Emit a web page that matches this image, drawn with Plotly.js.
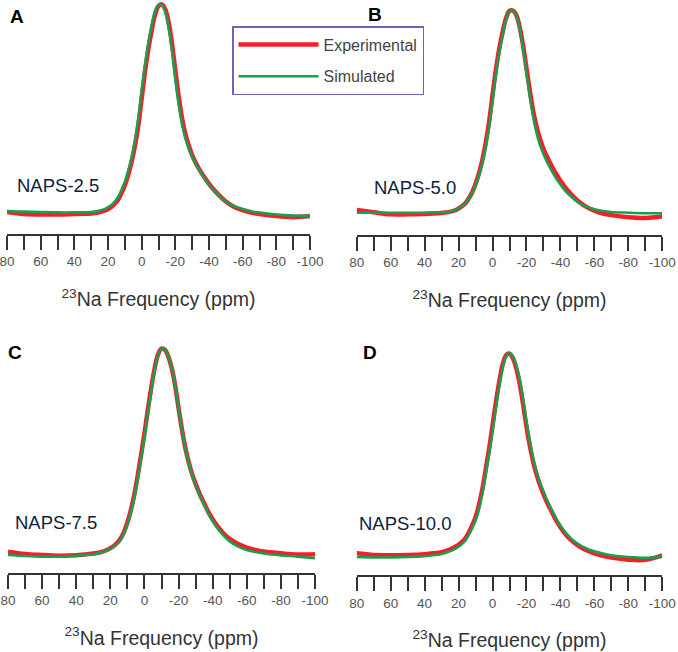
<!DOCTYPE html>
<html>
<head>
<meta charset="utf-8">
<script src="https://cdn.plot.ly/plotly-3.0.1.min.js"></script>
<style>html,body{margin:0;padding:0;background:#fff;}#chart{width:678px;height:652px;}</style>
</head>
<body>
<div id="chart"></div>
<script>
// Chemical shift grid (ppm)
const ppm = [80,70,60,50,40,35,30,26,22,20,18,16,14,12,10,8,6,4,2,0,-2,-4,-6,-8,-10,-12,-14,-16,-18,-20,-22,-24,-26,-28,-30,-32,-35,-38,-42,-46,-50,-55,-60,-65,-70,-80,-90,-100];

// Normalized intensities (same ppm grid)
const expA = [0.0,-0.01,-0.012,-0.012,-0.01,-0.009,-0.007,-0.003,0.006,0.014,0.024,0.039,0.06,0.09,0.128,0.178,0.24,0.318,0.415,0.545,0.675,0.785,0.875,0.95,0.99,0.998,0.975,0.912,0.81,0.68,0.555,0.45,0.375,0.318,0.273,0.238,0.195,0.158,0.115,0.08,0.05,0.024,0.009,-0.003,-0.01,-0.02,-0.025,-0.02];
const simA = [0.005,0.002,0.0,-0.002,-0.002,-0.001,0.0,0.005,0.014,0.023,0.034,0.05,0.073,0.105,0.145,0.198,0.262,0.345,0.452,0.587,0.71,0.815,0.9,0.967,0.997,0.995,0.962,0.885,0.775,0.635,0.515,0.42,0.353,0.305,0.265,0.232,0.19,0.153,0.112,0.078,0.05,0.028,0.014,0.004,-0.003,-0.012,-0.017,-0.018];

const expB = [0.013,0.002,-0.008,-0.008,-0.006,-0.004,-0.001,0.003,0.012,0.021,0.032,0.047,0.07,0.1,0.141,0.194,0.26,0.345,0.45,0.58,0.705,0.81,0.893,0.96,0.995,0.997,0.975,0.915,0.825,0.712,0.6,0.5,0.422,0.362,0.315,0.278,0.228,0.184,0.134,0.094,0.06,0.03,0.01,-0.004,-0.012,-0.022,-0.026,-0.018];
const simB = [0.0,0.0,0.0,0.0,0.0,0.001,0.002,0.004,0.013,0.021,0.031,0.045,0.066,0.095,0.134,0.184,0.245,0.323,0.423,0.552,0.681,0.79,0.879,0.953,0.992,0.998,0.973,0.908,0.81,0.69,0.571,0.468,0.39,0.332,0.288,0.252,0.204,0.162,0.116,0.081,0.053,0.031,0.017,0.009,0.004,0.0,-0.003,-0.003];

const expC = [0.016,0.005,0.0,-0.003,-0.001,0.003,0.007,0.013,0.024,0.033,0.044,0.059,0.08,0.112,0.157,0.216,0.29,0.382,0.482,0.588,0.703,0.81,0.904,0.971,0.998,0.993,0.96,0.904,0.82,0.71,0.607,0.518,0.447,0.39,0.344,0.303,0.25,0.2,0.148,0.108,0.078,0.053,0.036,0.025,0.017,0.008,0.002,0.004];
const simC = [0.0,-0.005,-0.008,-0.008,-0.004,0.0,0.004,0.011,0.021,0.03,0.04,0.054,0.074,0.104,0.147,0.204,0.276,0.367,0.465,0.571,0.687,0.798,0.896,0.967,0.997,0.994,0.962,0.905,0.82,0.709,0.605,0.514,0.442,0.385,0.338,0.296,0.242,0.192,0.138,0.097,0.065,0.04,0.024,0.014,0.007,-0.002,-0.008,-0.016];

const expD = [0.018,0.01,0.008,0.01,0.014,0.018,0.024,0.034,0.05,0.06,0.074,0.092,0.12,0.155,0.195,0.255,0.333,0.43,0.532,0.645,0.76,0.862,0.945,0.99,0.998,0.975,0.925,0.85,0.75,0.64,0.545,0.465,0.403,0.352,0.309,0.27,0.22,0.172,0.122,0.085,0.058,0.034,0.018,0.006,-0.003,-0.013,-0.014,0.008];
const simD = [0.0,-0.002,-0.002,0.0,0.004,0.008,0.015,0.025,0.04,0.05,0.064,0.08,0.108,0.14,0.178,0.235,0.31,0.405,0.505,0.615,0.733,0.84,0.93,0.985,1.0,0.985,0.942,0.875,0.777,0.665,0.567,0.482,0.418,0.365,0.32,0.28,0.228,0.18,0.13,0.092,0.066,0.043,0.028,0.017,0.009,0.0,-0.004,0.0];

// Axis tick labels
const tickVals = [80,60,40,20,0,-20,-40,-60,-80,-100];
const tickText = ['80','60','40','20','0','-20','-40','-60','-80','-100'];

const panelLetters = ['A','B','C','D'];
const sampleNames = ['NAPS-2.5','NAPS-5.0','NAPS-7.5','NAPS-10.0'];
const seriesNames = ['Experimental','Simulated'];
const xTitle = '<sup>23</sup>Na Frequency (ppm)';

const expAll = [expA, expB, expC, expD];
const simAll = [simA, simB, simC, simD];

const W = 678, H = 652;
const RED = '#f2202a', GREEN = '#14a24c';
const FONT = 'Liberation Sans, Arial, Helvetica, sans-serif';

// panel geometry in pixels: [xLeft, xRight, yTop, yBottom(axis line)], y range
const geo = [
  {x0:7,     x1:310,   y0:0,   y1:234,   yr:[-0.106, 1.019]},
  {x0:356.7, x1:662.3, y0:0,   y1:235,   yr:[-0.110, 1.049]},
  {x0:8,     x1:315,   y0:330, y1:572.7, yr:[-0.0856, 1.0885]},
  {x0:356.7, x1:662.3, y0:330, y1:575.3, yr:[-0.0898, 1.114]}
];

const traces = [];
const layout = {
  width: W, height: H,
  margin: {l:0, r:0, t:0, b:0},
  paper_bgcolor: '#fff', plot_bgcolor: 'rgba(0,0,0,0)',
  font: {family: FONT, color: '#333'},
  showlegend: true,
  legend: {
    x: 232/W, y: 1 - 26/H, xanchor: 'left', yanchor: 'top',
    bordercolor: '#6e63b4', borderwidth: 1.5, bgcolor: 'rgba(255,255,255,0)',
    font: {size: 16, color: '#444', family: FONT},
    itemwidth: 80, tracegroupgap: 8
  },
  annotations: [],
};

geo.forEach((g, i) => {
  const ax = i === 0 ? '' : String(i + 1);
  traces.push({
    x: ppm, y: expAll[i], type: 'scatter', mode: 'lines',
    name: seriesNames[0], legendgroup: 'exp', showlegend: i === 0,
    line: {color: RED, width: 4.5, shape: 'spline', smoothing: 1},
    xaxis: 'x' + ax, yaxis: 'y' + ax, hoverinfo: 'skip'
  });
  traces.push({
    x: ppm, y: simAll[i], type: 'scatter', mode: 'lines',
    name: seriesNames[1], legendgroup: 'sim', showlegend: i === 0,
    line: {color: GREEN, width: 2.5, shape: 'spline', smoothing: 1},
    xaxis: 'x' + ax, yaxis: 'y' + ax, hoverinfo: 'skip'
  });
  layout['xaxis' + ax] = {
    domain: [g.x0 / W, g.x1 / W],
    anchor: 'y' + ax,
    range: [80, -100],
    showgrid: false, zeroline: false,
    showline: true, linecolor: '#333', linewidth: 2,
    ticks: 'outside', ticklen: 14, tickwidth: 2, tickcolor: '#333',
    tickmode: 'array', tickvals: tickVals, ticktext: tickText,
    ticklabeloverflow: 'allow',
    minor: {tickmode: 'linear', tick0: 0, dtick: 10, ticks: 'outside', ticklen: 14, tickwidth: 2, tickcolor: '#333', showgrid: false},
    tickfont: {size: 13.5, color: '#555', family: FONT},
    title: {text: xTitle, font: {size: 19.5, color: '#333', family: FONT}, standoff: 24},
    fixedrange: true
  };
  layout['yaxis' + ax] = {
    domain: [1 - g.y1 / H, 1 - g.y0 / H],
    anchor: 'x' + ax,
    range: g.yr,
    visible: false, fixedrange: true
  };
});

// panel letters and sample names
const letterPos = [[17,17],[375,15],[15,352],[370,352]];
const namePos = [[15,185],[372,187],[13,522],[357,523]];
panelLetters.forEach((t, i) => {
  layout.annotations.push({
    text: '<b>' + t + '</b>', xref: 'paper', yref: 'paper',
    x: letterPos[i][0] / W, y: 1 - letterPos[i][1] / H,
    xanchor: 'center', yanchor: 'middle', showarrow: false,
    font: {size: 19, color: '#000', family: FONT}
  });
  layout.annotations.push({
    text: sampleNames[i], xref: 'paper', yref: 'paper',
    x: namePos[i][0] / W, y: 1 - namePos[i][1] / H,
    xanchor: 'left', yanchor: 'middle', showarrow: false,
    font: {size: 18.5, color: '#0f1e3c', family: FONT}
  });
});

Plotly.newPlot('chart', traces, layout, {staticPlot: true, displayModeBar: false});
</script>
</body>
</html>
